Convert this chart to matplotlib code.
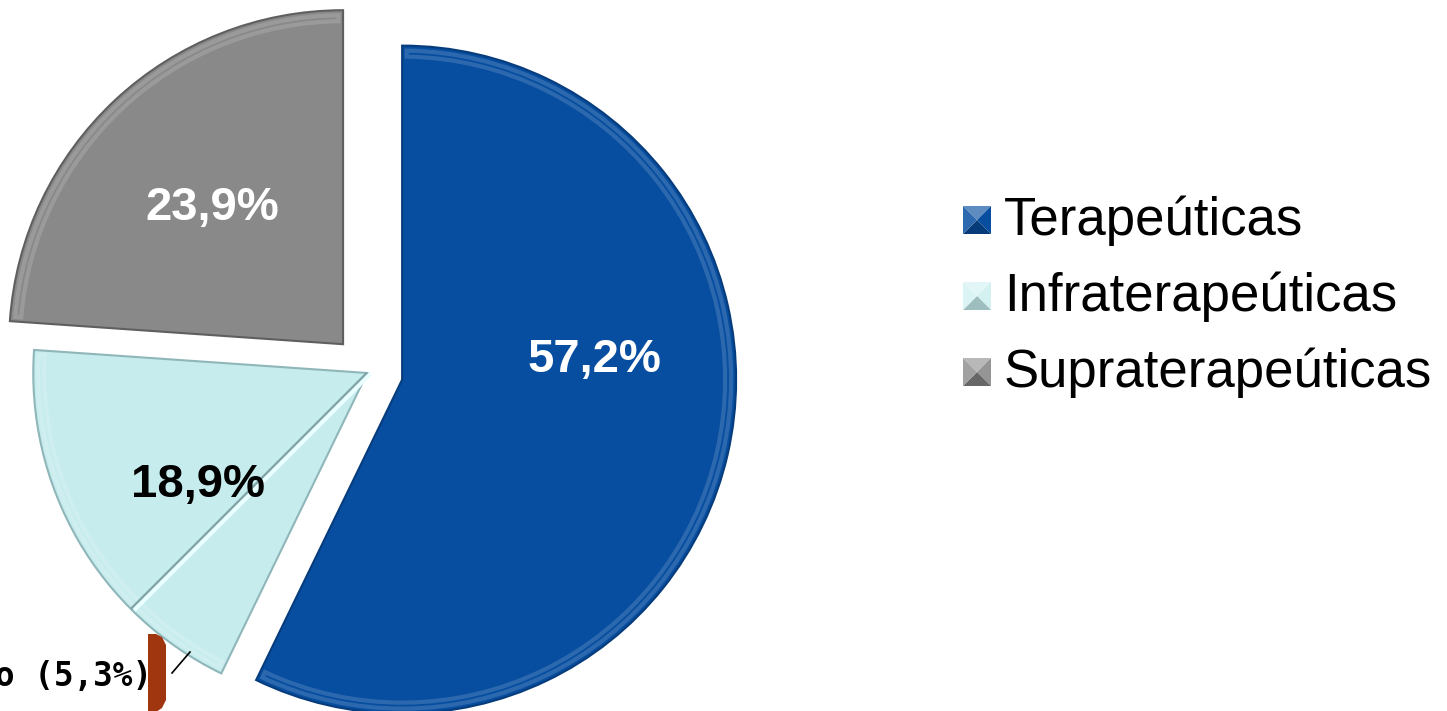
import numpy as np
import matplotlib
matplotlib.use("Agg")
import matplotlib.pyplot as plt
from matplotlib.patches import Polygon, Wedge

# Distribución de las determinaciones
categorias = ["Terapeúticas", "Infraterapeúticas", "Supraterapeúticas"]
porcentajes = [57.2, 18.9, 23.9]
etiquetas = ["57,2%", "18,9%", "23,9%"]
# parte de las infraterapeúticas señalada aparte
sub_porcentaje = 5.3
sub_etiqueta = "o (5,3%)"

colores = ["#074ea0", "#c6ecee", "#898989"]
bordes = ["#063c7c", "#8fb6b9", "#5f5f5f"]
color_texto = ["white", "black", "white"]
explode = [34, 2, 38]

W, H = 1447, 711
fig = plt.figure(figsize=(W / 100, H / 100), dpi=100)
ax = fig.add_axes([0, 0, 1, 1])

centro = (369, 339)
radio = 334
wedges, _ = ax.pie(porcentajes, colors=colores, startangle=90, counterclock=False,
                   center=centro, radius=radio, explode=explode, frame=True,
                   wedgeprops=dict(linewidth=1.5))
ax.set_xlim(0, W)
ax.set_ylim(0, H)
ax.set_aspect("equal")
ax.axis("off")

for w, b in zip(wedges, bordes):
    w.set_edgecolor(b)
    # brillo interior del bisel
    brillo = Wedge(w.center, w.r - 5, w.theta1 + 0.8, w.theta2 - 0.8, width=6,
                   facecolor="none", edgecolor="white", alpha=0.15, linewidth=3)
    ax.add_patch(brillo)

# linea que separa la porcion del 5,3% dentro de las infraterapeúticas
w_inf = wedges[1]
ang = np.deg2rad(90 - 360 * (porcentajes[0] + sub_porcentaje) / 100)
cx, cy = w_inf.center
x1, y1 = cx + w_inf.r * np.cos(ang), cy + w_inf.r * np.sin(ang)
ax.plot([cx, x1], [cy, y1], color="#7fa4a7", lw=2.2, solid_capstyle="butt", zorder=3)
ax.plot([cx + 3, x1 + 3], [cy - 1, y1 - 1], color="#eaffff", lw=3, solid_capstyle="butt", zorder=3)

# porcentajes dentro de cada porcion
pos_etiquetas = [(594, 351), (198, 226), (212, 503)]
for (x, y), txt, c in zip(pos_etiquetas, etiquetas, color_texto):
    ax.text(x, y, txt, ha="center", va="center", fontsize=34, fontweight="bold",
            family="Liberation Sans", color=c, zorder=5)

# etiqueta externa con su llave y linea guia
ax.text(152, H - 686, sub_etiqueta, ha="right", va="baseline", fontsize=23.5,
        fontweight="bold", family="DejaVu Sans Mono", color="black", zorder=5)
llave = [(148, H - 634), (156, H - 634), (162, H - 637), (166, H - 645),
         (166, H - 700), (162, H - 708), (156, H - 712), (148, H - 712)]
ax.add_patch(Polygon(llave, closed=True, facecolor="#a0360f", edgecolor="none", zorder=4))
ax.plot([172, 190], [H - 673, H - 652], color="black", lw=1.2, zorder=4)

# leyenda con marcadores biselados
tonos = [[0.35, 0.0, -0.25, 0.15], [0.5, 0.25, -0.2, 0.35], [0.4, 0.1, -0.25, 0.2]]
ley_y = [220, 296, 372]
lado = 28
for nombre, col, y, t in zip(categorias, colores, ley_y, tonos):
    xc, yc = 977, H - y
    h = lado / 2
    base = np.array(matplotlib.colors.to_rgb(col))
    esquinas = [(xc - h, yc + h), (xc + h, yc + h), (xc + h, yc - h), (xc - h, yc - h)]
    for k in range(4):
        f = t[k]
        tono = base + (1 - base) * f if f >= 0 else base * (1 + f)
        tri = [esquinas[k], esquinas[(k + 1) % 4], (xc, yc)]
        ax.add_patch(Polygon(tri, closed=True, facecolor=np.clip(tono, 0, 1),
                             edgecolor="none", zorder=4))
    ax.text(1004, yc - 1, nombre, ha="left", va="center", fontsize=38,
            family="Liberation Sans", color="black")

fig.savefig("out.png", dpi=100)
